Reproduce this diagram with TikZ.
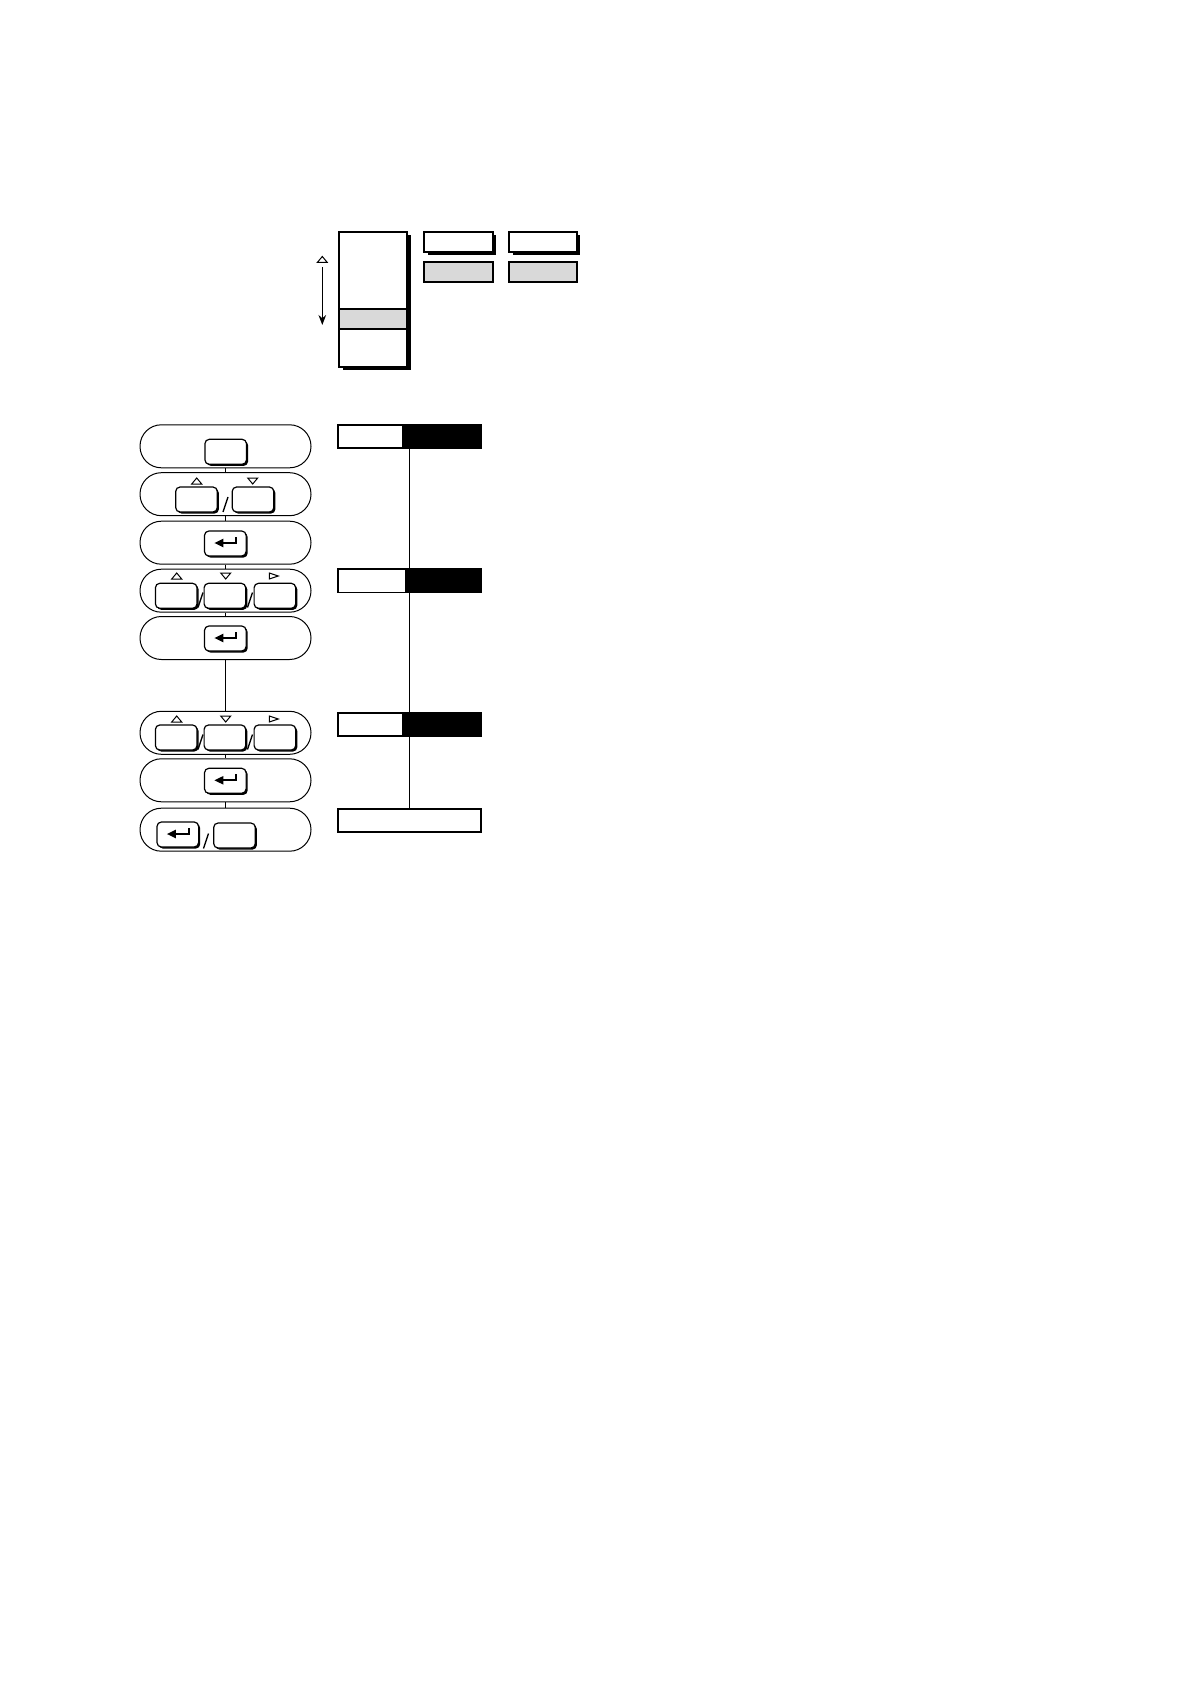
\documentclass[tikz,border=0pt]{standalone}
\usetikzlibrary{shadows,arrows.meta}
\definecolor{lgray}{HTML}{D9D9D9}
\newcommand\enterglyph[1]{\draw[line width=1pt,-{Triangle[length=4.5pt,width=4pt]}] ([shift={(11,-6.5)}]#1.center) -- ([shift={(11,-0.5)}]#1.center) -- ([shift={(-11,-0.5)}]#1.center);}
\newcommand\uptri[2]{\draw[line width=0.5pt] (#1-5,#2+3) -- (#1,#2-3) -- (#1+5,#2+3) -- cycle;}
\newcommand\dntri[2]{\draw[line width=0.5pt] (#1-5,#2-3) -- (#1,#2+3) -- (#1+5,#2-3) -- cycle;}
\newcommand\rttri[2]{\draw[line width=0.5pt] (#1-4,#2-3) -- (#1+5,#2) -- (#1-4,#2+3) -- cycle;}
\newcommand\slashmark[2]{\draw[line width=0.7pt] (#1-2.5,#2) -- (#1+2.5,#2-15);}
\begin{document}
\begin{tikzpicture}[x=0.5pt,y=-0.5pt,
  pill/.style={draw, line width=0.5pt, minimum width=85.5pt, minimum height=21.5pt, rounded corners=10.7pt, inner sep=0pt},
  keyb/.style={draw, fill=white, line width=0.6pt, minimum width=20.8pt, minimum height=12.5pt, rounded corners=2.2pt, inner sep=0pt,
    drop shadow={shadow xshift=0.8pt, shadow yshift=-0.8pt, fill=black, opacity=1}},
  bx/.style={draw, line width=0.9pt, inner sep=0pt, minimum height=11.6pt},
  sbox/.style={draw, fill=white, line width=0.9pt, inner sep=0pt,
    drop shadow={shadow xshift=1.6pt, shadow yshift=-1.6pt, fill=black, opacity=1}},
  gbox/.style={draw, fill=lgray, line width=0.9pt, inner sep=0pt, minimum height=10pt},
  conn/.style={line width=0.6pt}
]
\useasboundingbox (0,0) rectangle (1190,1684);

% ---------- top legend ----------
\node[sbox, minimum width=34pt, minimum height=67.5pt] (tall) at (373.3,299.8) {};
\node[gbox, minimum width=34pt] (band) at (373.3,319.3) {};
\node[sbox, minimum width=34.2pt, minimum height=9.7pt] (s1) at (458.5,242) {};
\node[sbox, minimum width=33.7pt, minimum height=9.7pt] (s2) at (543,242) {};
\node[gbox, minimum width=34.2pt] (g1) at (458.5,272.3) {};
\node[gbox, minimum width=33.7pt] (g2) at (543,272.3) {};
\coordinate (atop) at (322.3,267);
\coordinate (abot) at (322.3,325);
\uptri{322.3}{259.5}
\draw[line width=0.6pt,-{Stealth[length=5pt,width=3.8pt]}] (atop) -- (abot);

% ---------- pills ----------
\node[pill] (p1) at (225.5,446.3) {};
\node[pill] (p2) at (225.5,494.2) {};
\node[pill] (p3) at (225.5,542.7) {};
\node[pill] (p4) at (225.5,590.7) {};
\node[pill] (p5) at (225.5,638) {};
\node[pill] (p6) at (225.5,732.8) {};
\node[pill] (p7) at (225.5,780.3) {};
\node[pill] (p8) at (225.5,829.7) {};
\draw[conn] (p1.south) -- (p2.north);
\draw[conn] (p2.south) -- (p3.north);
\draw[conn] (p3.south) -- (p4.north);
\draw[conn] (p4.south) -- (p5.north);
\draw[conn] (p5.south) -- (p6.north);
\draw[conn] (p6.south) -- (p7.north);
\draw[conn] (p7.south) -- (p8.north);

% pill 1
\node[keyb] (k1) at (225.7,451.8) {};
% pill 2
\node[keyb] (k2a) at (196.5,499.5) {};
\node[keyb] (k2b) at (253,499.5) {};
\uptri{196.7}{481}
\dntri{252.7}{481}
\slashmark{225.5}{512}
% pill 3
\node[keyb] (k3) at (225.3,543.5) {};
\enterglyph{k3}
% pill 4
\node[keyb] (k4a) at (176.2,595.8) {};
\node[keyb] (k4b) at (224.9,595.8) {};
\node[keyb] (k4c) at (274.9,595.8) {};
\uptri{176.7}{576}
\dntri{225.7}{576}
\rttri{273.3}{576}
\slashmark{200.5}{607.5}
\slashmark{250}{607.5}
% pill 5
\node[keyb] (k5) at (225.3,638.5) {};
\enterglyph{k5}
% pill 6
\node[keyb] (k6a) at (176.2,737.5) {};
\node[keyb] (k6b) at (224.9,737.5) {};
\node[keyb] (k6c) at (274.9,737.5) {};
\uptri{176.7}{719}
\dntri{225.7}{719}
\rttri{273.3}{719}
\slashmark{200.5}{749.5}
\slashmark{250}{749.5}
% pill 7
\node[keyb] (k7) at (225.3,780.8) {};
\enterglyph{k7}
% pill 8
\node[keyb] (k8a) at (177.8,834.5) {};
\node[keyb] (k8b) at (234.5,835.5) {};
\enterglyph{k8a}
\slashmark{206}{848.5}

% ---------- right column ----------
\node[bx, minimum width=32.5pt] (w1) at (370.8,436.7) {};
\node[bx, fill=black, minimum width=38.7pt] (b1) at (442,436.7) {};
\node[bx, minimum width=33.7pt] (w2) at (372,580.8) {};
\node[bx, fill=black, minimum width=37.5pt] (b2) at (443.2,580.8) {};
\node[bx, minimum width=32.5pt] (w3) at (370.8,724.7) {};
\node[bx, fill=black, minimum width=38.7pt] (b3) at (442,724.7) {};
\node[bx, minimum width=71.2pt] (w4) at (409.5,820.7) {};
\coordinate (lx) at (409.3,0);
\draw[conn] (b1.south -| lx) -- (b2.north -| lx);
\draw[conn] (b2.south -| lx) -- (b3.north -| lx);
\draw[conn] (b3.south -| lx) -- (w4.north -| lx);
\end{tikzpicture}
\end{document}
